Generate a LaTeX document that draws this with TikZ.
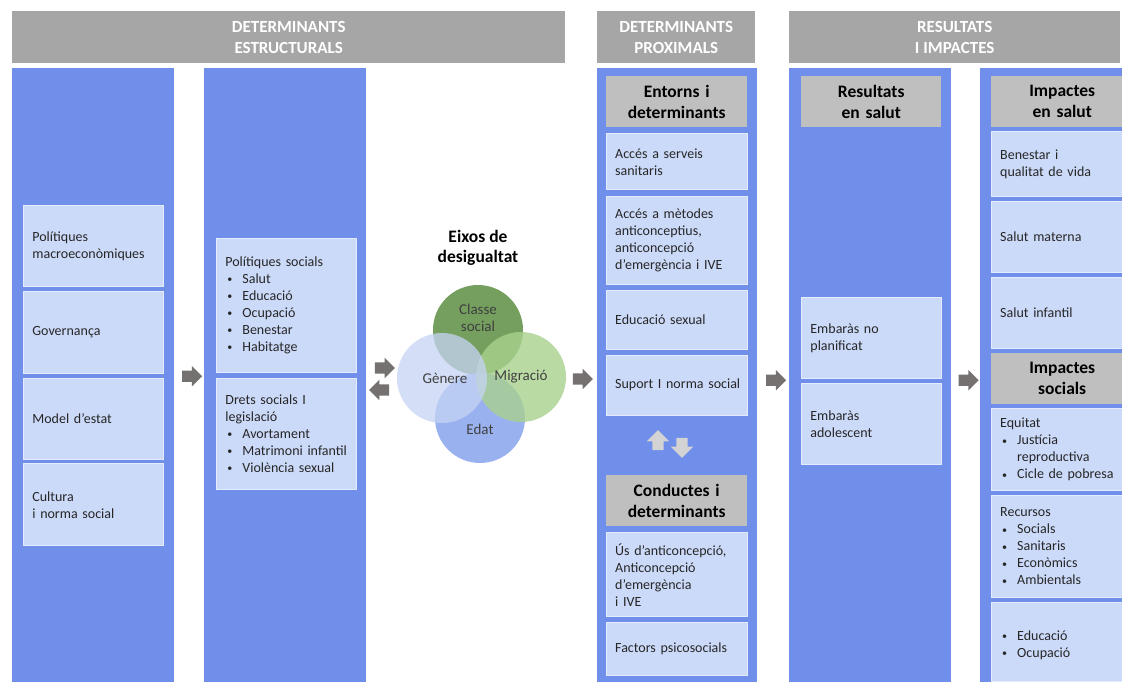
\documentclass[tikz,border=0pt]{standalone}
\usepackage{fontspec}
\setmainfont{Carlito}
\usetikzlibrary{positioning, shapes.arrows, calc}
\definecolor{bargray}{HTML}{A6A6A6}
\definecolor{hdgray}{HTML}{BFBFBF}
\definecolor{colblue}{HTML}{6F8FEB}
\definecolor{boxblue}{HTML}{CCDAF9}
\definecolor{arrgray}{HTML}{767171}
\definecolor{arrlight}{HTML}{D3D3D3}
\definecolor{txtink}{HTML}{262626}
\definecolor{clsgreen}{HTML}{6E9A56}
\definecolor{miggreen}{HTML}{A9D18E}
\definecolor{genblue}{HTML}{C6D4F5}
\definecolor{edtblue}{HTML}{8EAAEE}
\hyphenpenalty=10000
\newcommand\bitem[1]{\par\hangindent=17pt\hangafter=1\hspace*{2pt}\makebox[15pt][l]{\raisebox{0.6pt}{\fontsize{10}{17}\selectfont\textbullet}}#1}

\begin{document}
\begin{tikzpicture}[x=1pt, y=-1pt, node distance=4pt,
  bar/.style={fill=bargray, text=white, font=\bfseries\fontsize{17}{21}\selectfont, align=center, minimum height=52pt, inner sep=0pt, anchor=north west},
  col/.style={fill=colblue, minimum height=616pt, inner sep=0pt, anchor=north west},
  hd/.style={fill=hdgray, text=black, font=\bfseries\fontsize{17.5}{21}\selectfont, align=center, minimum height=51pt, text width=#1, inner sep=0pt},
  lbox/.style={fill=boxblue, draw=boxblue!55!white, line width=0.8pt, text=txtink, font=\fontsize{14}{17}\selectfont, align=left, inner xsep=9pt, inner ysep=2pt, text width=#1},
  barrow/.style={single arrow, fill=arrgray, minimum height=20pt, inner xsep=0pt, inner ysep=5.5pt, single arrow head extend=4.5pt, single arrow head indent=0pt},
  udarrow/.style={single arrow, fill=arrlight, minimum height=20pt, inner xsep=5.5pt, inner ysep=0pt, single arrow head extend=5.5pt, single arrow head indent=0pt},
  eix/.style={circle, minimum size=90pt, inner sep=0pt},
  eixtxt/.style={text=black!75, font=\fontsize{15}{17}\selectfont, align=center}]
  \clip (0,0) rectangle (1122,682);
  \fill[white] (0,0) rectangle (1122,682);

  % headers
  \node[bar, minimum width=553pt] (hdest) at (12,11) {DETERMINANTS\\ESTRUCTURALS};
  \node[bar, minimum width=158pt] (hdprox) at (597,11) {DETERMINANTS\\PROXIMALS};
  \node[bar, minimum width=331pt] (hdres) at (789,11) {RESULTATS\\I IMPACTES};

  % columns
  \node[col, minimum width=162pt] (col1) at (12,68) {};
  \node[col, minimum width=162pt] (col2) at (204,68) {};
  \node[col, minimum width=160pt] (col3) at (597,68) {};
  \node[col, minimum width=162pt] (col4) at (789,68) {};
  \node[col, minimum width=170pt] (col5) at (980,68) {};

  % structural determinants
  \node[lbox=122pt, minimum height=81pt, anchor=north west] (pmac) at (23,205) {Polítiques\\macroeconòmiques};
  \node[lbox=122pt, minimum height=82pt, below=of pmac] (gov) {Governança};
  \node[lbox=122pt, minimum height=81pt, below=of gov] (mest) {Model d’estat};
  \node[lbox=122pt, minimum height=82pt, below=of mest] (cult) {Cultura\\i norma social};

  \node[lbox=122pt, minimum height=134pt, anchor=north west] (psoc) at (216,238) {Polítiques socials\bitem{Salut}\bitem{Educació}\bitem{Ocupació}\bitem{Benestar}\bitem{Habitatge}};
  \node[lbox=122pt, minimum height=111pt, below=5pt of psoc] (dret) {Drets socials I\\legislació\bitem{Avortament}\bitem{Matrimoni infantil}\bitem{Violència sexual}};

  % axes of inequality
  \node[font=\bfseries\fontsize{17.5}{20}\selectfont, align=center] (eixtit) at (478,248) {Eixos de\\desigualtat};
  \node[eix, fill=clsgreen, fill opacity=0.95] (cls) at (478,330) {};
  \node[eix, fill=edtblue, fill opacity=0.9] (edt) at (480,418) {};
  \node[eix, fill=miggreen, fill opacity=0.8] (mig) at (521,377) {};
  \node[eix, fill=genblue, fill opacity=0.75] (gen) at (442,378) {};
  \node[eixtxt] at ([yshift=12pt]cls.center) {Classe\\social};
  \node[eixtxt] at ([xshift=3pt]gen.center) {Gènere};
  \node[eixtxt] at (mig.center) {Migració};
  \node[eixtxt] at ([yshift=-11pt]edt.center) {Edat};

  % proximal determinants
  \node[hd=141pt, anchor=north west] (entd) at (606,76) {Entorns i\\determinants};
  \node[lbox=123pt, minimum height=56pt, below=6pt of entd] (aserv) {Accés a serveis\\sanitaris};
  \node[lbox=123pt, minimum height=88pt, below=6pt of aserv] (ametd) {Accés a mètodes\\anticonceptius,\\anticoncepció\\d’emergència i IVE};
  \node[lbox=123pt, minimum height=59pt, below=5pt of ametd] (esex) {Educació sexual};
  \node[lbox=123pt, minimum height=60pt, below=5pt of esex] (supn) {\mbox{Suport I norma social}};
  \node[hd=141pt, anchor=north west] (cond) at (606,475) {Conductes i\\determinants};
  \node[lbox=123pt, minimum height=84pt, below=6pt of cond] (usant) {Ús d’anticoncepció,\\Anticoncepció\\d’emergència\\i IVE};
  \node[lbox=123pt, minimum height=53pt, below=5pt of usant] (fpsi) {Factors psicosocials};
  \node[udarrow, shape border rotate=90] (upar) at (658,443) {};
  \node[udarrow, shape border rotate=270] (dnar) at (682,445) {};

  % health outcomes
  \node[hd=140pt, anchor=north west] (ress) at (801,76) {Resultats\\en salut};
  \node[lbox=122pt, minimum height=81pt, anchor=north west] (enpl) at (801,297) {Embaràs no\\planificat};
  \node[lbox=122pt, minimum height=81pt, below=of enpl] (eado) {Embaràs\\adolescent};

  % impacts
  \node[hd=142pt, anchor=north west] (imps) at (991,76) {Impactes\\en salut};
  \node[lbox=124pt, minimum height=65pt, below=of imps] (bene) {Benestar i\\qualitat de vida};
  \node[lbox=124pt, minimum height=71pt, below=of bene] (smat) {Salut materna};
  \node[lbox=124pt, minimum height=71pt, below=of smat] (sinf) {Salut infantil};
  \node[hd=142pt, below=of sinf] (impsoc) {Impactes\\socials};
  \node[lbox=124pt, minimum height=82pt, below=of impsoc] (equi) {Equitat\bitem{Justícia reproductiva}\bitem{Cicle de pobresa}};
  \node[lbox=124pt, minimum height=102pt, below=of equi] (recu) {Recursos\bitem{Socials}\bitem{Sanitaris}\bitem{Econòmics}\bitem{Ambientals}};
  \node[lbox=124pt, minimum height=79pt, below=of recu] (eduo) {\bitem{Educació}\bitem{Ocupació}};

  % block arrows
  \node[barrow] (ar1) at ($(col1.east)!0.5!(col2.west)$) {};
  \node[barrow] (ar2) at (382,368) {};
  \node[barrow, shape border rotate=180] (ar3) at (382,390) {};
  \node[barrow] (ar4) at (580,379) {};
  \node[barrow] (ar5) at ($(col3.east)!0.5!(col4.west)+(0,4)$) {};
  \node[barrow] (ar6) at ($(col4.east)!0.5!(col5.west)+(0,4)$) {};
\end{tikzpicture}
\end{document}
